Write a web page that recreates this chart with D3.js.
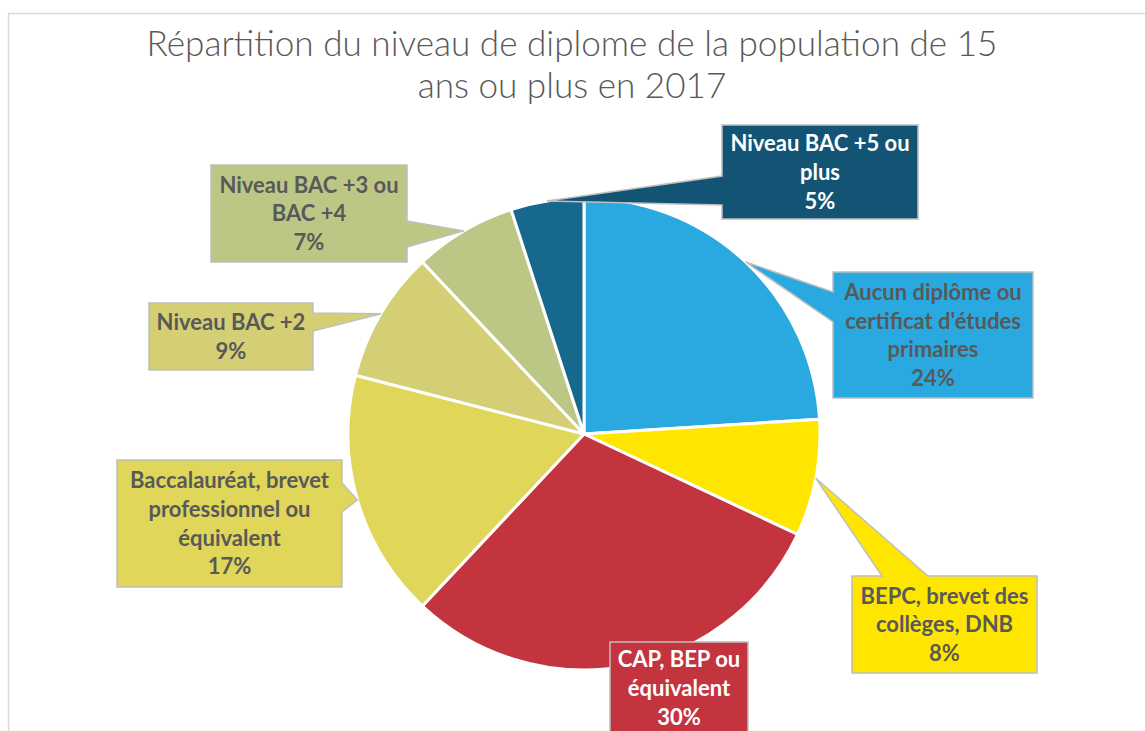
<!DOCTYPE html>
<html>
<head>
<meta charset="utf-8">
<script src="https://cdn.jsdelivr.net/npm/d3@7"></script>
<style>
  body { margin: 0; background: #fff; }
  svg { display: block; font-family: Lato, "Open Sans", sans-serif; }
</style>
</head>
<body>
<svg id="chart" width="1145" height="731"></svg>
<script>
// data
var categories = [
  "Aucun diplôme ou certificat d'études primaires",
  "BEPC, brevet des collèges, DNB",
  "CAP, BEP ou équivalent",
  "Baccalauréat, brevet professionnel ou équivalent",
  "Niveau BAC +2",
  "Niveau BAC +3 ou BAC +4",
  "Niveau BAC +5 ou plus"
];
var values = [24, 8, 30, 17, 9, 7, 5];
var titleLines = ["Répartition du niveau de diplome de la population de 15", "ans ou plus en 2017"];

var sliceColors = ["#29a9e0", "#ffe600", "#c4343f", "#dfd65a", "#d4cf74", "#bcc786", "#16688c"];
var boxColors   = ["#29a9e0", "#ffe600", "#c4343f", "#dfd65a", "#d4cf74", "#bcc786", "#135474"];
var textColors  = ["#595959", "#595959", "#ffffff", "#595959", "#595959", "#595959", "#ffffff"];

// callout boxes as Excel placed them; side/a/b = where the pointer leaves the box
var callouts = [
  {x: 833, y: 272, w: 200, h: 126, side: "left",  a: 292, b: 322},
  {x: 852, y: 576, w: 185, h: 97,  side: "top",   a: 882, b: 928},
  {x: 610, y: 642, w: 138, h: 92,  side: null},
  {x: 117, y: 460, w: 225, h: 127, side: "right", a: 483, b: 512},
  {x: 149, y: 303, w: 164, h: 67,  side: "right", a: 313, b: 331},
  {x: 211, y: 165, w: 196, h: 97,  side: "right", a: 221, b: 247},
  {x: 722, y: 125, w: 196, h: 94,  side: "left",  a: 176, b: 205}
];

var svg = d3.select("#chart");
var cx = 584, cy = 434, radius = 236;

// chart frame
svg.append("rect")
  .attr("x", 8.5).attr("y", 13.5)
  .attr("width", 1200).attr("height", 800)
  .attr("fill", "#fff")
  .attr("stroke", "#d9d9d9")
  .attr("stroke-width", 1.5);

// title
var title = svg.append("g").attr("class", "title");
var t1 = title.append("text")
  .attr("x", 572).attr("y", 56)
  .attr("text-anchor", "middle")
  .attr("fill", "#595959")
  .attr("font-weight", 300)
  .attr("font-size", 34)
  .text(titleLines[0]);
var w1 = t1.node().getComputedTextLength();
var titleSize = 34 * 851 / w1;
t1.attr("font-size", titleSize);
title.append("text")
  .attr("x", 572).attr("y", 98)
  .attr("text-anchor", "middle")
  .attr("fill", "#595959")
  .attr("font-weight", 300)
  .attr("font-size", titleSize)
  .text(titleLines[1]);

// pie
var pie = d3.pie().sort(null).value(function(d) { return d; });
var arcs = pie(values);
var arc = d3.arc().innerRadius(0).outerRadius(radius);

var g = svg.append("g").attr("transform", "translate(" + cx + "," + cy + ")");
g.selectAll("path")
  .data(arcs)
  .enter().append("path")
  .attr("d", arc)
  .attr("fill", function(d, i) { return sliceColors[i]; })
  .attr("stroke", "#fff")
  .attr("stroke-width", 3)
  .attr("stroke-linejoin", "round");

// callout shape: box with a wedge pointing at the slice edge
function calloutPath(c, tip) {
  var x0 = c.x, y0 = c.y, x1 = c.x + c.w, y1 = c.y + c.h;
  var p = d3.path();
  p.moveTo(x0, y0);
  if (c.side === "top") { p.lineTo(c.a, y0); p.lineTo(tip[0], tip[1]); p.lineTo(c.b, y0); }
  p.lineTo(x1, y0);
  if (c.side === "right") { p.lineTo(x1, c.a); p.lineTo(tip[0], tip[1]); p.lineTo(x1, c.b); }
  p.lineTo(x1, y1);
  p.lineTo(x0, y1);
  if (c.side === "left") { p.lineTo(x0, c.b); p.lineTo(tip[0], tip[1]); p.lineTo(x0, c.a); }
  p.closePath();
  return p.toString();
}

function wrap(text, maxWidth, probe) {
  var words = text.split(" "), lines = [], line = "";
  words.forEach(function(w) {
    var test = line ? line + " " + w : w;
    probe.text(test);
    if (line && probe.node().getComputedTextLength() > maxWidth) {
      lines.push(line);
      line = w;
    } else {
      line = test;
    }
  });
  if (line) lines.push(line);
  return lines;
}

var fs = 22, lh = 28.7;
var labels = svg.append("g").attr("class", "labels");
var probe = svg.append("text").attr("font-size", fs).attr("font-weight", 700);

arcs.forEach(function(d, i) {
  var c = callouts[i];
  var mid = (d.startAngle + d.endAngle) / 2;
  var tip = [cx + radius * Math.sin(mid), cy - radius * Math.cos(mid)];

  labels.append("path")
    .attr("d", calloutPath(c, tip))
    .attr("fill", boxColors[i])
    .attr("stroke", "#bfbfbf")
    .attr("stroke-width", 1.5)
    .attr("stroke-linejoin", "miter");

  var lines = wrap(categories[i], c.w - 8, probe);
  lines.push(values[i] + "%");
  var boxMid = c.y + c.h / 2;
  var txt = labels.append("text")
    .attr("text-anchor", "middle")
    .attr("font-size", fs)
    .attr("font-weight", 700)
    .attr("fill", textColors[i]);
  lines.forEach(function(l, j) {
    txt.append("tspan")
      .attr("x", c.x + c.w / 2)
      .attr("y", boxMid + (j - (lines.length - 1) / 2) * lh + fs * 0.36)
      .text(l);
  });
});
probe.remove();
</script>
</body>
</html>
